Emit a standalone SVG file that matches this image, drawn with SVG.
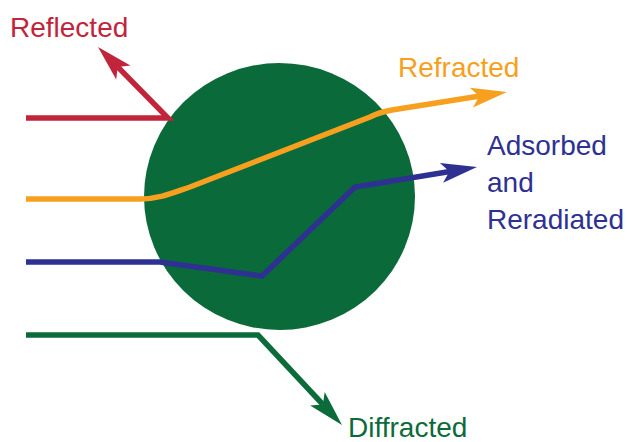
<svg xmlns="http://www.w3.org/2000/svg" width="627" height="442" viewBox="0 0 627 442">
<style>
.lbl{font-family:"Liberation Sans",Arial,sans-serif;font-size:28px}
.ray{fill:none;stroke-width:5.5;stroke-linejoin:miter;stroke-linecap:butt}
.red{stroke:#c1253c}.redf{fill:#c1253c}
.org{stroke:#f7a020}.orgf{fill:#f7a020}
.blu{stroke:#2e3192}.bluf{fill:#2e3192}
.grn{stroke:#0c6b3a}.grnf{fill:#0c6b3a}
</style>
<rect width="627" height="442" fill="#ffffff"/>
<g id="particle">
<ellipse cx="279.5" cy="196.5" rx="135.5" ry="133.5" fill="#0b6a39"/>
</g>
<g id="connectors">
<path class="ray red" d="M26,118 L168,118 L117.7,66.9"/>
<polygon class="redf" points="98,47 130.4,65.6 117.7,66.9 116.2,79.6"/>
<path class="ray org" d="M26,199 L140,199 C160,199 175,192 190,187 L370,117 Q380,112 392,110 L480,96"/>
<polygon class="orgf" points="507,92 472.9,107.5 479.3,96.3 469.9,87.7"/>
<path class="ray blu" d="M26,262 L160,262 L262,276 L355,187 L450,171.5"/>
<polygon class="bluf" points="477,167 443.1,182.7 449.4,171.5 439.9,162.9"/>
<path class="ray grn" d="M26,335 L258,335 L322.9,404.5"/>
<polygon class="grnf" points="342,425 310.1,405.5 322.9,404.5 324.7,391.9"/>
</g>
<g id="label-reflected"><text class="lbl" x="10" y="37" fill="#c1253c">Reflected</text></g>
<g id="label-refracted"><text class="lbl" x="398" y="77" fill="#f7a020">Refracted</text></g>
<g id="label-adsorbed">
<text class="lbl" x="487" y="155" fill="#2e3192">Adsorbed</text>
<text class="lbl" x="487" y="192" fill="#2e3192">and</text>
<text class="lbl" x="487" y="229" fill="#2e3192">Reradiated</text>
</g>
<g id="label-diffracted"><text class="lbl" x="348" y="437" fill="#0c6b3a">Diffracted</text></g>
</svg>
